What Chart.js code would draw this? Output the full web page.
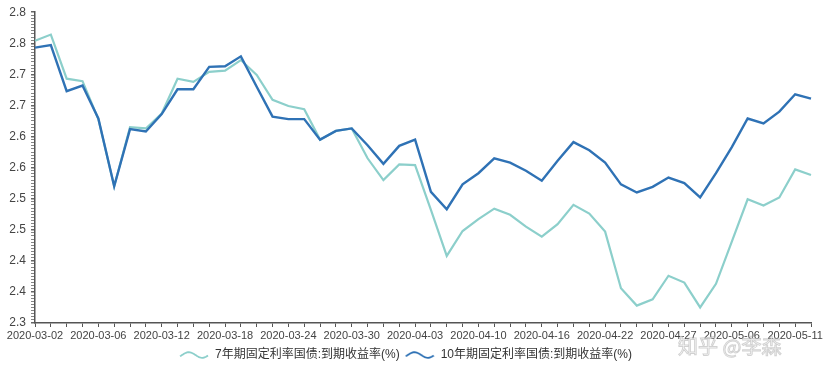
<!DOCTYPE html>
<html>
<head>
<meta charset="utf-8">
<script src="https://cdn.jsdelivr.net/npm/chart.js@4.4.1/dist/chart.umd.min.js"></script>
<style>
  html, body { margin: 0; padding: 0; background: #fff; }
  #wrap { width: 831px; height: 371px; position: relative; }
</style>
</head>
<body>
<div id="wrap"><canvas id="yieldChart"></canvas></div>
<script>
// 交易日
const dates = [
  '2020-03-02', '2020-03-03', '2020-03-04', '2020-03-05', '2020-03-06',
  '2020-03-09', '2020-03-10', '2020-03-11', '2020-03-12', '2020-03-13',
  '2020-03-16', '2020-03-17', '2020-03-18', '2020-03-19', '2020-03-20',
  '2020-03-23', '2020-03-24', '2020-03-25', '2020-03-26', '2020-03-27',
  '2020-03-30', '2020-03-31', '2020-04-01', '2020-04-02', '2020-04-03',
  '2020-04-07', '2020-04-08', '2020-04-09', '2020-04-10', '2020-04-13',
  '2020-04-14', '2020-04-15', '2020-04-16', '2020-04-17', '2020-04-20',
  '2020-04-21', '2020-04-22', '2020-04-23', '2020-04-24', '2020-04-26',
  '2020-04-27', '2020-04-28', '2020-04-29', '2020-04-30', '2020-05-06',
  '2020-05-07', '2020-05-08', '2020-05-09', '2020-05-11', '2020-05-12'
];

// 7年期
const yield7 = [
  2.754, 2.764, 2.693, 2.689, 2.628, 2.520, 2.615, 2.613, 2.637, 2.693,
  2.688, 2.704, 2.706, 2.723, 2.699, 2.659, 2.649, 2.644, 2.595, 2.609,
  2.613, 2.565, 2.530, 2.555, 2.554, 2.482, 2.408, 2.448, 2.467, 2.484,
  2.474, 2.455, 2.439, 2.459, 2.490, 2.476, 2.447, 2.356, 2.328, 2.338,
  2.376, 2.365, 2.325, 2.363, 2.431, 2.499, 2.489, 2.502, 2.547, 2.538
];

// 10年期
const yield10 = [
  2.743, 2.747, 2.673, 2.682, 2.629, 2.520, 2.612, 2.608, 2.636, 2.676,
  2.676, 2.712, 2.713, 2.729, 2.680, 2.632, 2.628, 2.628, 2.595, 2.609,
  2.613, 2.586, 2.556, 2.585, 2.595, 2.511, 2.483, 2.523, 2.541, 2.565,
  2.558, 2.545, 2.529, 2.561, 2.591, 2.578, 2.558, 2.523, 2.510, 2.519,
  2.534, 2.525, 2.502, 2.541, 2.583, 2.629, 2.621, 2.640, 2.668, 2.661
];

// 纵轴刻度文字 (2.30 ~ 2.80, 每 0.05 一格, 保留一位小数)
const yTickLabels = ['2.3', '2.4', '2.4', '2.5', '2.5', '2.6', '2.6', '2.7', '2.7', '2.8', '2.8'];

const seriesNames = ['7年期固定利率国债:到期收益率(%)', '10年期固定利率国债:到期收益率(%)'];
const colors = ['#8ccfcb', '#2f72b5'];

// 图例里的波浪线
function waveIcon(color) {
  const c = document.createElement('canvas');
  c.width = 30;
  c.height = 12;
  const g = c.getContext('2d');
  g.strokeStyle = color;
  g.lineWidth = 1.8;
  g.beginPath();
  for (let px = 1; px <= 29; px++) {
    const t = (px - 1) / 28;
    const yy = 6 - 2.8 * Math.sin(2 * Math.PI * (t * 1.05 - 0.08));
    if (px === 1) g.moveTo(px, yy); else g.lineTo(px, yy);
  }
  g.stroke();
  return c;
}

const watermark = {
  id: 'watermark',
  afterDraw(chart) {
    const ctx = chart.ctx;
    ctx.save();
    ctx.font = '20px "Noto Sans CJK SC"';
    ctx.textBaseline = 'middle';
    ctx.fillStyle = 'rgba(255,255,255,0.7)';
    ctx.strokeStyle = 'rgba(140,140,140,0.4)';
    ctx.lineWidth = 1;
    ctx.fillText('知乎 @李森', 678, 346);
    ctx.strokeText('知乎 @李森', 678, 346);
    ctx.restore();
  }
};

const font = '"Liberation Sans", "Noto Sans CJK SC", sans-serif';

new Chart(document.getElementById('yieldChart'), {
  type: 'line',
  data: {
    labels: dates,
    datasets: [
      {
        label: seriesNames[0],
        data: yield7,
        borderColor: colors[0],
        borderWidth: 2.2,
        pointRadius: 0,
        tension: 0,
        order: 1,
        pointStyle: waveIcon(colors[0])
      },
      {
        label: seriesNames[1],
        data: yield10,
        borderColor: colors[1],
        borderWidth: 2.4,
        pointRadius: 0,
        tension: 0,
        order: 0,
        pointStyle: waveIcon(colors[1])
      }
    ]
  },
  options: {
    responsive: true,
    maintainAspectRatio: false,
    animation: false,
    layout: { padding: { top: 5, right: 20, bottom: 0, left: 0 } },
    plugins: {
      tooltip: { enabled: false },
      legend: {
        position: 'bottom',
        labels: {
          usePointStyle: true,
          pointStyleWidth: 30,
          padding: 5,
          color: '#333',
          font: { family: font, size: 12 },
          sort: (a, b) => a.datasetIndex - b.datasetIndex
        }
      }
    },
    scales: {
      x: {
        offset: false,
        border: { display: true, color: '#555', width: 1.5 },
        grid: { drawOnChartArea: false, drawTicks: true, tickLength: 4, color: '#555' },
        ticks: {
          autoSkip: false,
          maxRotation: 0,
          padding: 2,
          color: '#444',
          font: { family: font, size: 11 },
          callback: (v, i) => (i % 4 === 0 ? dates[i] : '')
        },
        afterFit: (scale) => { scale.height = 21; }
      },
      y: {
        min: 2.3,
        max: 2.8,
        border: { display: true, color: '#555', width: 1.5 },
        grid: {
          drawOnChartArea: false,
          drawTicks: true,
          tickLength: 4,
          color: '#666',
          lineWidth: (ctx) => (ctx.index % 10 === 0 ? 1.5 : 0.8)
        },
        ticks: {
          stepSize: 0.005,
          maxTicksLimit: 200,
          autoSkip: false,
          padding: 5,
          color: '#444',
          font: { family: font, size: 12 },
          callback: (v) => {
            const k = Math.round((v - 2.3) / 0.005);
            return k % 10 === 0 ? yTickLabels[k / 10] : '';
          }
        },
        afterFit: (scale) => { scale.width = 35; }
      }
    }
  },
  plugins: [watermark]
});
</script>
</body>
</html>
